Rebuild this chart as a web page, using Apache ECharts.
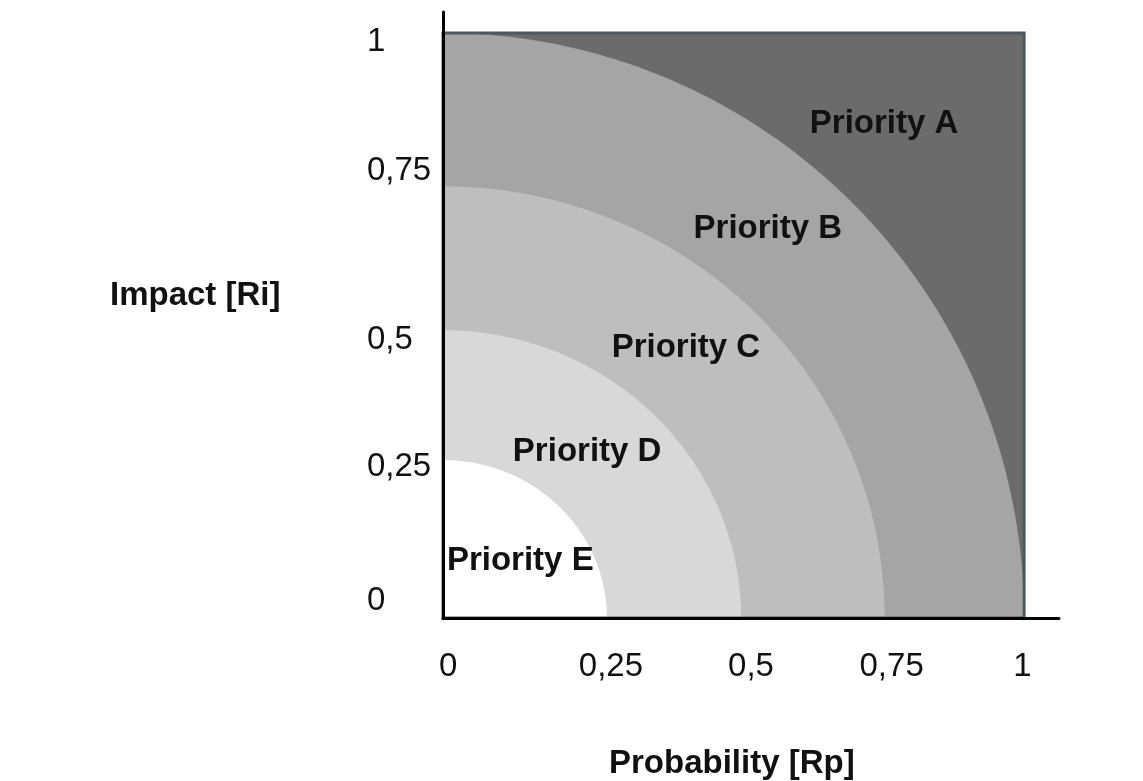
<!DOCTYPE html>
<html>
<head>
<meta charset="utf-8">
<script src="https://cdn.jsdelivr.net/npm/echarts@6/dist/echarts.min.js"></script>
<style>
html,body{margin:0;padding:0;background:#ffffff;}
#chart{width:1143px;height:781px;}
</style>
</head>
<body>
<div id="chart"></div>
<script>
// ---- data ----
const zoneNames = ['Priority A', 'Priority B', 'Priority C', 'Priority D', 'Priority E'];
// outer extent of each zone along Probability (x) and Impact (y); A is the full square
const zoneReachProb = [1.0, 1.0, 0.76, 0.513, 0.282];
const zoneReachImpact = [1.0, 1.0, 0.738, 0.492, 0.27];
// where each zone's label sits
const zoneLabelProb = [0.759, 0.559, 0.418, 0.248, 0.133];
const zoneLabelImpact = [0.845, 0.665, 0.461, 0.284, 0.097];
// tick labels and where they sit on the axes
const xTickLabels = ['0', '0,25', '0,5', '0,75', '1'];
const xTickValues = [0.009, 0.289, 0.530, 0.772, 0.997];
const yTickLabels = ['0', '0,25', '0,5', '0,75', '1'];
const yTickValues = [0.029, 0.258, 0.475, 0.764, 0.985];
const xAxisTitle = 'Probability [Rp]';
const yAxisTitle = 'Impact [Ri]';

// ---- styles ----
const zoneColors = ['#6b6b6b', '#a5a5a5', '#bebebe', '#d8d8d8', '#ffffff'];
const FONT = "'Liberation Sans', Arial, sans-serif";

const chart = echarts.init(document.getElementById('chart'), null, {renderer: 'canvas'});

function renderZone(params, api) {
  const i = params.dataIndex;
  const rx = api.value(0), ry = api.value(1);
  const color = zoneColors[i];
  const children = [];
  if (i === 0) {
    const tl = api.coord([0, ry]);
    const br = api.coord([rx, 0]);
    children.push({
      type: 'rect',
      shape: {x: tl[0], y: tl[1], width: br[0] - tl[0], height: br[1] - tl[1]},
      style: {fill: color}
    });
    children.push({
      type: 'rect',
      z2: 100,
      shape: {x: tl[0], y: tl[1], width: br[0] - tl[0], height: br[1] - tl[1]},
      style: {fill: null, stroke: '#4c5a60', lineWidth: 3}
    });
  } else {
    const pts = [api.coord([0, 0])];
    const steps = 120;
    for (let k = 0; k <= steps; k++) {
      const a = (Math.PI / 2) * k / steps;
      pts.push(api.coord([rx * Math.cos(a), ry * Math.sin(a)]));
    }
    children.push({
      type: 'polygon',
      shape: {points: pts},
      style: {fill: color}
    });
  }
  return {type: 'group', children: children};
}

const option = {
  animation: false,
  backgroundColor: '#ffffff',
  grid: {left: 443, right: 84, top: 12, bottom: 163, containLabel: false},
  xAxis: {
    type: 'value', min: 0, max: 1.06, z: 10,
    axisLine: {show: true, onZero: false, lineStyle: {color: '#000', width: 3}},
    axisTick: {show: false},
    splitLine: {show: false},
    axisLabel: {
      show: true,
      customValues: xTickValues,
      margin: 32,
      fontSize: 33,
      fontFamily: FONT,
      color: '#111',
      formatter: function (v) {
        const idx = xTickValues.indexOf(v);
        return idx >= 0 ? xTickLabels[idx] : '';
      }
    }
  },
  yAxis: {
    type: 'value', min: 0, max: 1.036, z: 10,
    axisLine: {show: true, onZero: false, lineStyle: {color: '#000', width: 3}},
    axisTick: {show: false},
    splitLine: {show: false},
    axisLabel: {
      show: true,
      customValues: yTickValues,
      margin: 76,
      align: 'left',
      fontSize: 33,
      fontFamily: FONT,
      color: '#111',
      formatter: function (v) {
        const idx = yTickValues.indexOf(v);
        return idx >= 0 ? yTickLabels[idx] : '';
      }
    }
  },
  graphic: [
    {type: 'text', left: 110, top: 279, style: {text: yAxisTitle, fontSize: 33, fontWeight: 'bold', fontFamily: FONT, fill: '#111'}},
    {type: 'text', left: 609, top: 747, style: {text: xAxisTitle, fontSize: 33, fontWeight: 'bold', fontFamily: FONT, fill: '#111'}}
  ],
  series: [
    {
      type: 'custom',
      renderItem: renderZone,
      clip: false,
      silent: true,
      z: 2,
      data: zoneNames.map((n, i) => ({name: n, value: [zoneReachProb[i], zoneReachImpact[i]]}))
    },
    {
      type: 'scatter',
      silent: true,
      z: 5,
      symbolSize: 1,
      itemStyle: {color: 'rgba(0,0,0,0)', opacity: 1},
      label: {
        show: true,
        position: 'inside',
        formatter: '{b}',
        fontSize: 33,
        fontWeight: 'bold',
        fontFamily: FONT,
        color: '#111111',
        opacity: 1
      },
      data: zoneNames.map((n, i) => ({name: n, value: [zoneLabelProb[i], zoneLabelImpact[i]]}))
    }
  ]
};
chart.setOption(option);
</script>
</body>
</html>
